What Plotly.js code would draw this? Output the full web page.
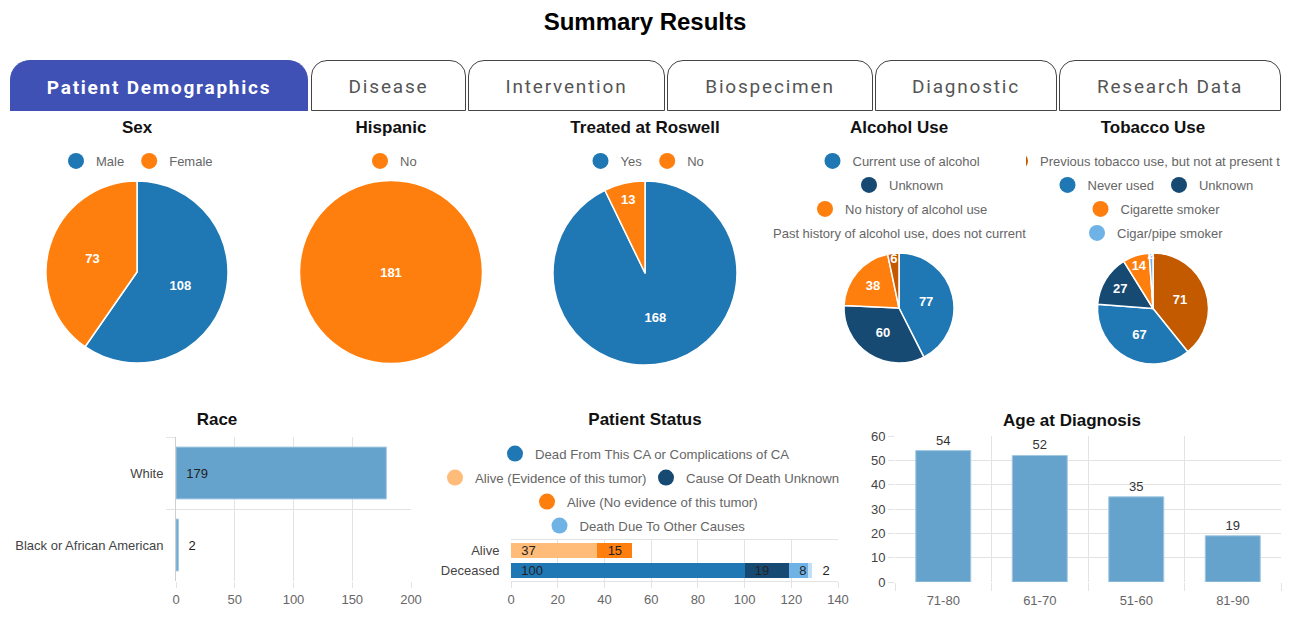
<!DOCTYPE html>
<html>
<head>
<meta charset="utf-8">
<script src="https://cdn.plot.ly/plotly-3.0.1.min.js"></script>
<style>
  body { margin:0; background:#fff; width:1300px; height:629px; overflow:hidden; position:relative;
         font-family: Arial, "Liberation Sans", sans-serif; }
  #heading { position:absolute; left:0; top:8px; width:1290px; text-align:center; font-size:24px;
             font-weight:bold; color:#000; }
  .tab { position:absolute; top:60px; height:51px; box-sizing:border-box; border:1.3px solid #444;
         border-radius:16px 16px 0 0; background:#fff; font-family: Roboto, sans-serif; font-size:19px;
         letter-spacing:1.8px; color:#555; display:flex; align-items:center; justify-content:center;
         padding-top:2px; }
  .tab.active { background:#3f51b5; border-color:#3f51b5; color:#fff; font-weight:700; letter-spacing:1.75px;
                border-radius:20px 20px 0 0; border-bottom:none; }
  .wrap { position:absolute; top:110px; width:254px; height:270px; overflow:hidden; }
  .wrap > div { position:absolute; left:-73px; top:0; width:400px; height:270px; }
  .chart { position:absolute; top:400px; height:229px; }
</style>
</head>
<body>
<div id="heading">Summary Results</div>
<div class="tab active" style="left:10px;width:298px;">Patient Demographics</div>
<div class="tab" style="left:311px;width:155px;">Disease</div>
<div class="tab" style="left:468px;width:197px;">Intervention</div>
<div class="tab" style="left:667px;width:206px;">Biospecimen</div>
<div class="tab" style="left:875px;width:182px;">Diagnostic</div>
<div class="tab" style="left:1059px;width:222px;">Research Data</div>

<div class="wrap" style="left:10px;"><div id="sex"></div></div>
<div class="wrap" style="left:264px;"><div id="hispanic"></div></div>
<div class="wrap" style="left:518px;"><div id="roswell"></div></div>
<div class="wrap" style="left:772px;"><div id="alcohol"></div></div>
<div class="wrap" style="left:1026px;"><div id="tobacco"></div></div>

<div class="chart" id="race" style="left:0px;width:434px;"></div>
<div class="chart" id="age" style="left:856px;width:432px;"></div>
<div class="chart" id="status" style="left:434px;width:422px;"></div>

<script>
// ---------------- DATA ----------------
const sexLabels = ['Male', 'Female'];
const sexValues = [108, 73];

const hispanicLabels = ['No'];
const hispanicValues = [181];

const roswellLabels = ['Yes', 'No'];
const roswellValues = [168, 13];

const alcoholLabels = ['Current use of alcohol', 'Unknown', 'No history of alcohol use',
                       'Past history of alcohol use, does not currently use'];
const alcoholValues = [77, 60, 38, 6];

const tobaccoLabels = ['Previous tobacco use, but not at present time', 'Never used', 'Unknown',
                       'Cigarette smoker', 'Cigar/pipe smoker'];
const tobaccoValues = [71, 67, 27, 14, 2];

const raceLabels = ['White', 'Black or African American'];
const raceValues = [179, 2];

const statusCategories = ['Alive', 'Deceased'];
const statusDeadFromCA = [null, 100];
const statusAliveEvidence = [37, null];
const statusCauseUnknown = [null, 19];
const statusAliveNoEvidence = [15, null];
const statusDeathOtherCauses = [null, 8];
const statusOther = [null, 2];

const ageLabels = ['71-80', '61-70', '51-60', '81-90'];
const ageValues = [54, 52, 35, 19];

// ---------------- STYLE ----------------
const FONT = 'Arial, "Liberation Sans", sans-serif';
const BLUE = '#1f77b4', ORANGE = '#ff7f0e', NAVY = '#174a73', DKORANGE = '#c45a00',
      LTBLUE = '#6fb3e6', LTORANGE = '#ffbb78', PALEBLUE = '#c3dff5';
const GRID = '#e3e3e3';
const BARFILL = '#66a3cc', BARLINE = '#a3c8e2';
const config = {displayModeBar: false, staticPlot: true};

function legendKey(r) { return r === 1 ? 'legend' : 'legend' + r; }

function titleObj(text, yOff, H) {
  return {text: text, x: 0.5, xref: 'container', xanchor: 'center', y: 1 - yOff / H, yref: 'container',
          yanchor: 'middle', font: {family: FONT, size: 17, color: '#111', weight: 700}};
}

function pieChart(id, title, labels, values, colors, rows, cy, R) {
  const W = 400, H = 270, cx = 200;
  const rowY = [51, 75, 99, 123];
  const traces = [{
    type: 'pie', labels: labels, values: values, sort: false, direction: 'clockwise', rotation: 0,
    marker: {colors: colors, line: {color: '#fff', width: 1.5}},
    textinfo: 'value', textposition: 'inside', insidetextorientation: 'horizontal',
    textfont: {family: FONT, size: 13, color: '#fff', weight: 700},
    domain: {x: [(cx - R) / W, (cx + R) / W], y: [1 - (cy + R) / H, 1 - (cy - R) / H]},
    automargin: false, showlegend: false, hoverinfo: 'none'
  }];
  labels.forEach((l, i) => traces.push({
    type: 'scatter', mode: 'markers', x: [null], y: [null], name: l,
    marker: {color: colors[i], size: 16}, legend: legendKey(rows[i]), showlegend: true
  }));
  const layout = {
    width: W, height: H, margin: {l: 0, r: 0, t: 0, b: 0, autoexpand: false},
    paper_bgcolor: 'rgba(0,0,0,0)', plot_bgcolor: 'rgba(0,0,0,0)',
    xaxis: {visible: false, range: [0, 1]}, yaxis: {visible: false, range: [0, 1]},
    title: titleObj(title, 17, H),
    uniformtext: {mode: 'show', minsize: 13}, hovermode: false
  };
  const maxRow = Math.max(...rows);
  for (let r = 1; r <= maxRow; r++) {
    layout[legendKey(r)] = {orientation: 'h', xref: 'container', yref: 'container', x: 0.5, xanchor: 'center',
      y: 1 - rowY[r - 1] / H, yanchor: 'middle', bgcolor: 'rgba(0,0,0,0)',
      font: {family: FONT, size: 13, color: '#666'}};
  }
  return Plotly.newPlot(id, traces, layout, config);
}

function drawRace() {
  const H = 229;
  return Plotly.newPlot('race', [{
    type: 'bar', orientation: 'h', y: raceLabels, x: raceValues,
    marker: {color: BARFILL, line: {color: BARLINE, width: 1}},
    texttemplate: '\u00a0\u00a0%{x}', textposition: 'auto', insidetextanchor: 'start', constraintext: 'none',
    textangle: 0, textfont: {family: FONT, size: 13, color: '#222'}, cliponaxis: false, showlegend: false
  }], {
    width: 434, height: H, margin: {l: 176, r: 23, t: 37, b: 48, autoexpand: false},
    paper_bgcolor: '#fff', plot_bgcolor: '#fff', font: {family: FONT},
    title: titleObj('Race', 19, H),
    xaxis: {range: [0, 200], dtick: 50, tick0: 0, showgrid: true, gridcolor: GRID, zeroline: false,
            ticks: 'outside', ticklen: 6, tickcolor: GRID, tickfont: {size: 13, color: '#666'}},
    yaxis: {type: 'category', categoryorder: 'array', categoryarray: raceLabels, autorange: 'reversed',
            tickson: 'boundaries', ticks: 'outside', ticklen: 9, tickcolor: GRID, showgrid: true, gridcolor: GRID,
            showline: true, linecolor: '#cfcfcf', ticklabelstandoff: 9, tickfont: {size: 13, color: '#444'}},
    bargap: 0.28, hovermode: false
  }, config);
}

function drawStatus() {
  const W = 422, H = 229, L = 434;
  const series = [
    {name: 'Dead From This CA or Complications of CA', x: statusDeadFromCA, color: BLUE, leg: 1},
    {name: 'Alive (Evidence of this tumor)', x: statusAliveEvidence, color: LTORANGE, leg: 2},
    {name: 'Cause Of Death Unknown', x: statusCauseUnknown, color: NAVY, leg: 3},
    {name: 'Alive (No evidence of this tumor)', x: statusAliveNoEvidence, color: ORANGE, leg: 4},
    {name: 'Death Due To Other Causes', x: statusDeathOtherCauses, color: LTBLUE, leg: 5},
    {name: 'Other', x: statusOther, color: PALEBLUE, leg: 0}
  ];
  // legend placement (page pixels): row centre y offset, anchor x
  const legendPlace = {
    1: {y: 54, x: 0.5, xanchor: 'center'},
    2: {y: 78, x: (652 - L) / W, xanchor: 'right'},
    3: {y: 78, x: (646 - L) / W, xanchor: 'left'},
    4: {y: 102, x: 0.5, xanchor: 'center'},
    5: {y: 126, x: 0.5, xanchor: 'center'}
  };
  const traces = [];
  series.forEach((s, i) => {
    traces.push({
      type: 'bar', orientation: 'h', y: statusCategories, x: s.x, name: s.name,
      marker: {color: s.color},
      texttemplate: '\u00a0\u00a0%{x}', textposition: i === series.length - 1 ? 'outside' : 'inside',
      insidetextanchor: 'start', constraintext: 'none', textangle: 0, cliponaxis: false,
      textfont: {family: FONT, size: 13, color: '#222'}, showlegend: false
    });
  });
  series.forEach(s => {
    if (!s.leg) return;
    traces.push({type: 'scatter', mode: 'markers', x: [null], y: [null], name: s.name,
                 marker: {color: s.color, size: 16}, legend: legendKey(s.leg), showlegend: true});
  });
  const layout = {
    width: W, height: H, margin: {l: 77, r: 18, t: 140, b: 48, autoexpand: false},
    paper_bgcolor: 'rgba(0,0,0,0)', plot_bgcolor: 'rgba(0,0,0,0)', font: {family: FONT},
    title: titleObj('Patient Status', 19, H),
    barmode: 'stack', bargap: 0.27, hovermode: false,
    xaxis: {range: [0, 140], dtick: 20, tick0: 0, showgrid: true, gridcolor: GRID, zeroline: false,
            showline: true, mirror: true, linecolor: GRID,
            ticks: 'outside', ticklen: 6, tickcolor: GRID, tickfont: {size: 13, color: '#666'}},
    yaxis: {type: 'category', categoryorder: 'array', categoryarray: statusCategories, autorange: 'reversed',
            showgrid: false, ticks: 'outside', ticklen: 8, tickcolor: 'rgba(0,0,0,0)',
            tickfont: {size: 13, color: '#444'}}
  };
  Object.keys(legendPlace).forEach(k => {
    const p = legendPlace[k];
    layout[legendKey(+k)] = {orientation: 'h', xref: 'container', yref: 'container', x: p.x, xanchor: p.xanchor,
      y: 1 - p.y / H, yanchor: 'middle', bgcolor: 'rgba(0,0,0,0)',
      font: {family: FONT, size: 13.2, color: '#666'}};
  });
  return Plotly.newPlot('status', traces, layout, config);
}

function drawAge() {
  const H = 229;
  return Plotly.newPlot('age', [{
    type: 'bar', x: ageLabels, y: ageValues,
    marker: {color: BARFILL, line: {color: BARLINE, width: 1}},
    text: ageValues, textposition: 'outside', cliponaxis: false, textangle: 0,
    textfont: {family: FONT, size: 13, color: '#333'}, showlegend: false
  }], {
    width: 432, height: H, margin: {l: 39, r: 7, t: 36, b: 47, autoexpand: false},
    paper_bgcolor: '#fff', plot_bgcolor: '#fff', font: {family: FONT},
    title: titleObj('Age at Diagnosis', 20, H),
    bargap: 0.43, hovermode: false,
    xaxis: {type: 'category', categoryorder: 'array', categoryarray: ageLabels, tickson: 'boundaries',
            ticks: 'outside', ticklen: 8, tickcolor: GRID, showgrid: true, gridcolor: GRID,
            ticklabelstandoff: 9, tickfont: {size: 13, color: '#666'}},
    yaxis: {range: [0, 60], dtick: 10, tick0: 0, showgrid: true, gridcolor: GRID, zeroline: false,
            ticks: 'outside', ticklen: 6, tickcolor: GRID, tickfont: {size: 13, color: '#444'}}
  }, config);
}

const jobs = [
  () => pieChart('sex', 'Sex', sexLabels, sexValues, [BLUE, ORANGE], [1, 1], 162, 91),
  () => pieChart('hispanic', 'Hispanic', hispanicLabels, hispanicValues, [ORANGE], [1], 162, 91.5),
  () => pieChart('roswell', 'Treated at Roswell', roswellLabels, roswellValues, [BLUE, ORANGE], [1, 1], 163, 92),
  () => pieChart('alcohol', 'Alcohol Use', alcoholLabels, alcoholValues, [BLUE, NAVY, ORANGE, DKORANGE], [1, 2, 3, 4], 198, 55),
  () => pieChart('tobacco', 'Tobacco Use', tobaccoLabels, tobaccoValues, [DKORANGE, BLUE, NAVY, ORANGE, LTBLUE], [1, 2, 2, 3, 4], 198.5, 55.5),
  drawRace, drawAge, drawStatus
];
jobs.forEach(fn => { try { const p = fn(); if (p && p.catch) p.catch(e => console.error(e)); } catch (e) { console.error(e); } });
</script>
</body>
</html>
